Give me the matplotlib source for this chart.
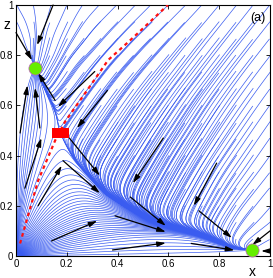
import numpy as np
import matplotlib
matplotlib.use("Agg")
import matplotlib.pyplot as plt
from matplotlib.patches import Rectangle
from matplotlib.collections import LineCollection

plt.rcParams['font.family'] = ['Liberation Sans', 'DejaVu Sans']

# ---------------- values ----------------
# attracting curve (unstable manifold of the saddle), right edge -> left edge
curve_x = [1.00, 0.93, 0.85, 0.72, 0.59, 0.50, 0.37, 0.33, 0.27, 0.224, 0.175, 0.155, 0.12, 0.075, 0.035, 0.0]
curve_z = [0.015, 0.025, 0.035, 0.084, 0.12, 0.155, 0.235, 0.27, 0.335, 0.394, 0.49, 0.57, 0.65, 0.75, 0.83, 0.88]

# separatrix (red dashed)
sep_x = [0.016, 0.05, 0.087, 0.154, 0.193, 0.28, 0.363, 0.436, 0.48, 0.598]
sep_z = [0.05, 0.17, 0.30, 0.46, 0.535, 0.66, 0.781, 0.847, 0.888, 1.0]

# equilibria
stable_x = [0.075, 0.93]
stable_z = [0.75, 0.025]
saddle_x = [0.175]
saddle_z = [0.49]

# directions of the fast fibres above the curve (x, z, outward angle in degrees)
fib_x = [0.175, 0.24, 0.32, 0.40, 0.50, 0.60,
         0.28, 0.40, 0.45, 0.60, 0.75, 0.72, 0.90, 0.70, 0.90, 0.85, 0.95, 0.97, 1.00,
         0.19, 0.27, 0.35, 0.14, 0.16, 0.10, 0.06, 0.03, 0.00]
fib_z = [0.49, 0.60, 0.72, 0.815, 0.91, 1.00,
         0.50, 0.45, 0.30, 0.30, 0.25, 0.50, 0.45, 0.75, 0.90, 0.15, 0.20, 0.07, 0.03,
         0.64, 0.80, 0.95, 0.76, 0.92, 0.84, 0.82, 0.88, 0.95]
fib_a = [57, 56, 53, 47, 44, 45,
         57, 58, 60, 61, 62, 58, 56, 53, 52, 58, 52, 38, 15,
         48, 46, 45, 58, 64, 72, 95, 115, 125]

# black arrows (start -> end)
arr_x0 = [0.146, 0.000, 0.310, 0.360, 0.154, 0.016, 0.094, 0.035, 0.087, 0.185, 0.210,
          0.140, 0.580, 0.450, 0.390, 0.380, 0.790, 0.720, 0.690, 1.000, 1.000]
arr_z0 = [1.000, 0.890, 0.735, 0.660, 0.620, 0.490, 0.510, 0.270, 0.200, 0.380, 0.470,
          0.060, 0.470, 0.235, 0.160, 0.024, 0.370, 0.180, 0.050, 0.100, 0.020]
arr_x1 = [0.083, 0.063, 0.165, 0.240, 0.087, 0.045, 0.075, 0.100, 0.180, 0.330, 0.330,
          0.320, 0.460, 0.590, 0.590, 0.590, 0.700, 0.850, 0.860, 0.930, 0.965]
arr_z1 = [0.840, 0.780, 0.594, 0.510, 0.730, 0.680, 0.670, 0.470, 0.360, 0.250, 0.320,
          0.140, 0.290, 0.120, 0.096, 0.052, 0.200, 0.072, 0.023, 0.044, 0.020]

ticks = [0, 0.2, 0.4, 0.6, 0.8, 1]
tick_labels = ['0', '0.2', '0.4', '0.6', '0.8', '1']

# ---------------- model: fast fibres + slow drift along the curve ----------------
def catmull_rom(px, pz, n=30):
    p = np.column_stack([px, pz]).astype(float)
    p = np.vstack([2 * p[0] - p[1], p, 2 * p[-1] - p[-2]])
    t = np.linspace(0, 1, n, endpoint=False)[:, None]
    out = []
    for i in range(1, len(p) - 2):
        p0, p1, p2, p3 = p[i - 1], p[i], p[i + 1], p[i + 2]
        out.append(0.5 * (2 * p1 + (-p0 + p2) * t + (2 * p0 - 5 * p1 + 4 * p2 - p3) * t ** 2
                          + (-p0 + 3 * p1 - 3 * p2 + p3) * t ** 3))
    out.append(p[-2][None])
    return np.vstack(out)

dense = catmull_rom(curve_x, curve_z)
arc = np.concatenate([[0], np.cumsum(np.hypot(*np.diff(dense, axis=0).T))])
L = arc[-1]
NPSI = 720
psi_grid = np.linspace(0, L, NPSI)
Cx = np.interp(psi_grid, arc, dense[:, 0])
Cz = np.interp(psi_grid, arc, dense[:, 1])
Rc = np.hypot(Cx, Cz)
phiC = np.arctan2(Cz, Cx)

def nearest_psi(px, pz):
    return psi_grid[np.argmin((Cx - px) ** 2 + (Cz - pz) ** 2)]

psiA = nearest_psi(stable_x[0], stable_z[0])
psiB = nearest_psi(stable_x[1], stable_z[1])
psiS = nearest_psi(saddle_x[0], saddle_z[0])

fx, fz, fa = np.array(fib_x), np.array(fib_z), np.radians(fib_a)

def fib_dir(x, z):
    d2 = (x[:, None] - fx[None]) ** 2 + (z[:, None] - fz[None]) ** 2
    w = 1.0 / (d2 + 0.002) ** 1.5
    cx = (w * np.cos(fa)).sum(1)
    cz = (w * np.sin(fa)).sum(1)
    n = np.hypot(cx, cz)
    return cx / n, cz / n

NS, DS = 450, 0.004
P = np.zeros((NPSI, NS, 2))
P[:, 0, 0], P[:, 0, 1] = Cx, Cz
for j in range(NS - 1):
    x, z = P[:, j, 0], P[:, j, 1]
    ux, uz = fib_dir(x, z)
    ux, uz = fib_dir(x + 0.5 * DS * ux, z + 0.5 * DS * uz)
    P[:, j + 1, 0] = x + DS * ux
    P[:, j + 1, 1] = z + DS * uz

bend_w = 0.16 * np.exp(-((psi_grid - psiS) / 0.25) ** 2)

def omega(psi):
    lo = (psi - psiS) * (psi - psiB) / ((psiS - psiB) / 2) ** 2
    hi = 0.5 * (psi - psiS) * (psiA - psi) / ((psiA - psiS) / 2) ** 2
    return np.clip(np.where(psi < psiS, lo, hi), -1.0, 1.0)

def to_xz(psi, q):
    psi = np.clip(psi, 0, L)
    out = np.zeros(psi.shape + (2,))
    below = q < 0
    rho = 1 + q[below]
    ps = psi[below]
    cx = np.interp(ps, psi_grid, Cx)
    cz = np.interp(ps, psi_grid, Cz)
    bw = np.interp(ps, psi_grid, bend_w)
    out[below, 0] = rho * cx + bw * rho * (1 - rho) * (-cz)
    out[below, 1] = rho * cz + bw * rho * (1 - rho) * cx
    ps = psi[~below]
    s = q[~below]
    fi = ps / psi_grid[1]
    i0 = np.clip(np.floor(fi).astype(int), 0, NPSI - 2)
    a = np.clip(fi - i0, 0, 1)[:, None]
    fj = s / DS
    j0 = np.clip(np.floor(fj).astype(int), 0, NS - 2)
    b = np.clip(fj - j0, 0, 1)[:, None]
    out[~below] = ((1 - a) * (1 - b) * P[i0, j0] + a * (1 - b) * P[i0 + 1, j0]
                   + (1 - a) * b * P[i0, j0 + 1] + a * b * P[i0 + 1, j0 + 1])
    return out

# seeds: rays near the origin
phis = np.radians(np.arange(1.0, 89.5, 2.0))
seed_psi = list(np.interp(phis, phiC, psi_grid))
seed_q = [0.015 - 1.0] * len(phis)

# seeds: regular grid above the curve
flatP = P[::2, ::2].reshape(-1, 2)
gpsi, gs = np.meshgrid(psi_grid[::2], (np.arange(NS) * DS)[::2], indexing='ij')
gpsi, gs = gpsi.ravel(), gs.ravel()
for gx in np.linspace(0, 1, 16):
    for gz in np.linspace(0, 1, 16):
        rr = np.hypot(gx, gz)
        if rr - np.interp(np.arctan2(gz, gx), phiC, Rc) < 0.01:
            continue
        d2 = (flatP[:, 0] - gx) ** 2 + (flatP[:, 1] - gz) ** 2
        k = np.argmin(d2)
        if d2[k] < 0.015 ** 2:
            seed_psi.append(gpsi[k])
            seed_q.append(gs[k])

psi = np.array(seed_psi)
q = np.array(seed_q)
EPS, DT, NSTEP = 0.12, 0.04, 1100
hist_psi = [psi.copy()]
hist_q = [q.copy()]
for _ in range(NSTEP):
    below = q < 0
    rho = 1 + q
    dq = np.where(below, -q * rho, -q)
    scale = np.where(psi < psiS, 0.04, 0.012)
    g = np.where(below, rho ** 2, np.exp(-np.maximum(q, 0) / scale))
    psi = np.clip(psi + DT * EPS * omega(psi) * g, 0, L)
    q = q + DT * dq
    hist_psi.append(psi.copy())
    hist_q.append(q.copy())
HP = np.array(hist_psi)
HQ = np.array(hist_q)
XY = to_xz(HP.ravel(), HQ.ravel()).reshape(HP.shape + (2,))

# ---------------- figure ----------------
fig = plt.figure(figsize=(2.73, 2.78), dpi=100)
ax = fig.add_axes([16 / 273, 22 / 278, 254 / 273, 251 / 278])

segs = [XY[:, i, :] for i in range(XY.shape[1])]
ax.add_collection(LineCollection(segs, colors='#3a5cf0', linewidths=0.5, zorder=1))

ax.plot(sep_x, sep_z, color='#ff1010', lw=1.6, ls=(0, (1.6, 1.6)), zorder=3)

for x0, z0, x1, z1 in zip(arr_x0, arr_z0, arr_x1, arr_z1):
    ax.annotate('', xy=(x1, z1), xytext=(x0, z0),
                arrowprops=dict(arrowstyle='-|>,head_length=0.5,head_width=0.15',
                                color='black', lw=0.9, shrinkA=0, shrinkB=0,
                                mutation_scale=10), zorder=4)

for sx, sz in zip(saddle_x, saddle_z):
    ax.add_patch(Rectangle((sx - 0.032, sz - 0.018), 0.064, 0.036,
                           facecolor='#ff0000', edgecolor='none', zorder=5))
ax.plot(stable_x, stable_z, 'o', ms=9.5, mfc='#66ee00', mec='#c060c0', mew=0.5, zorder=6,
        clip_on=False)

ax.set_xlim(0, 1)
ax.set_ylim(0, 1)
ax.set_xticks(ticks)
ax.set_xticklabels(tick_labels)
ax.set_yticks(ticks)
ax.set_yticklabels(tick_labels)
ax.tick_params(direction='in', top=True, right=True, length=3, width=0.6,
               labelsize=7, pad=2)
for sp in ax.spines.values():
    sp.set_linewidth(0.8)

ax.text(-0.035, 0.92, 'z', fontsize=10, ha='center', va='center', clip_on=False)
ax.text(0.93, -0.064, 'x', fontsize=10, ha='center', va='center', clip_on=False)
ax.text(0.953, 0.948, '(a)', fontsize=9, ha='center', va='center')

fig.savefig('out.png', dpi=100)
